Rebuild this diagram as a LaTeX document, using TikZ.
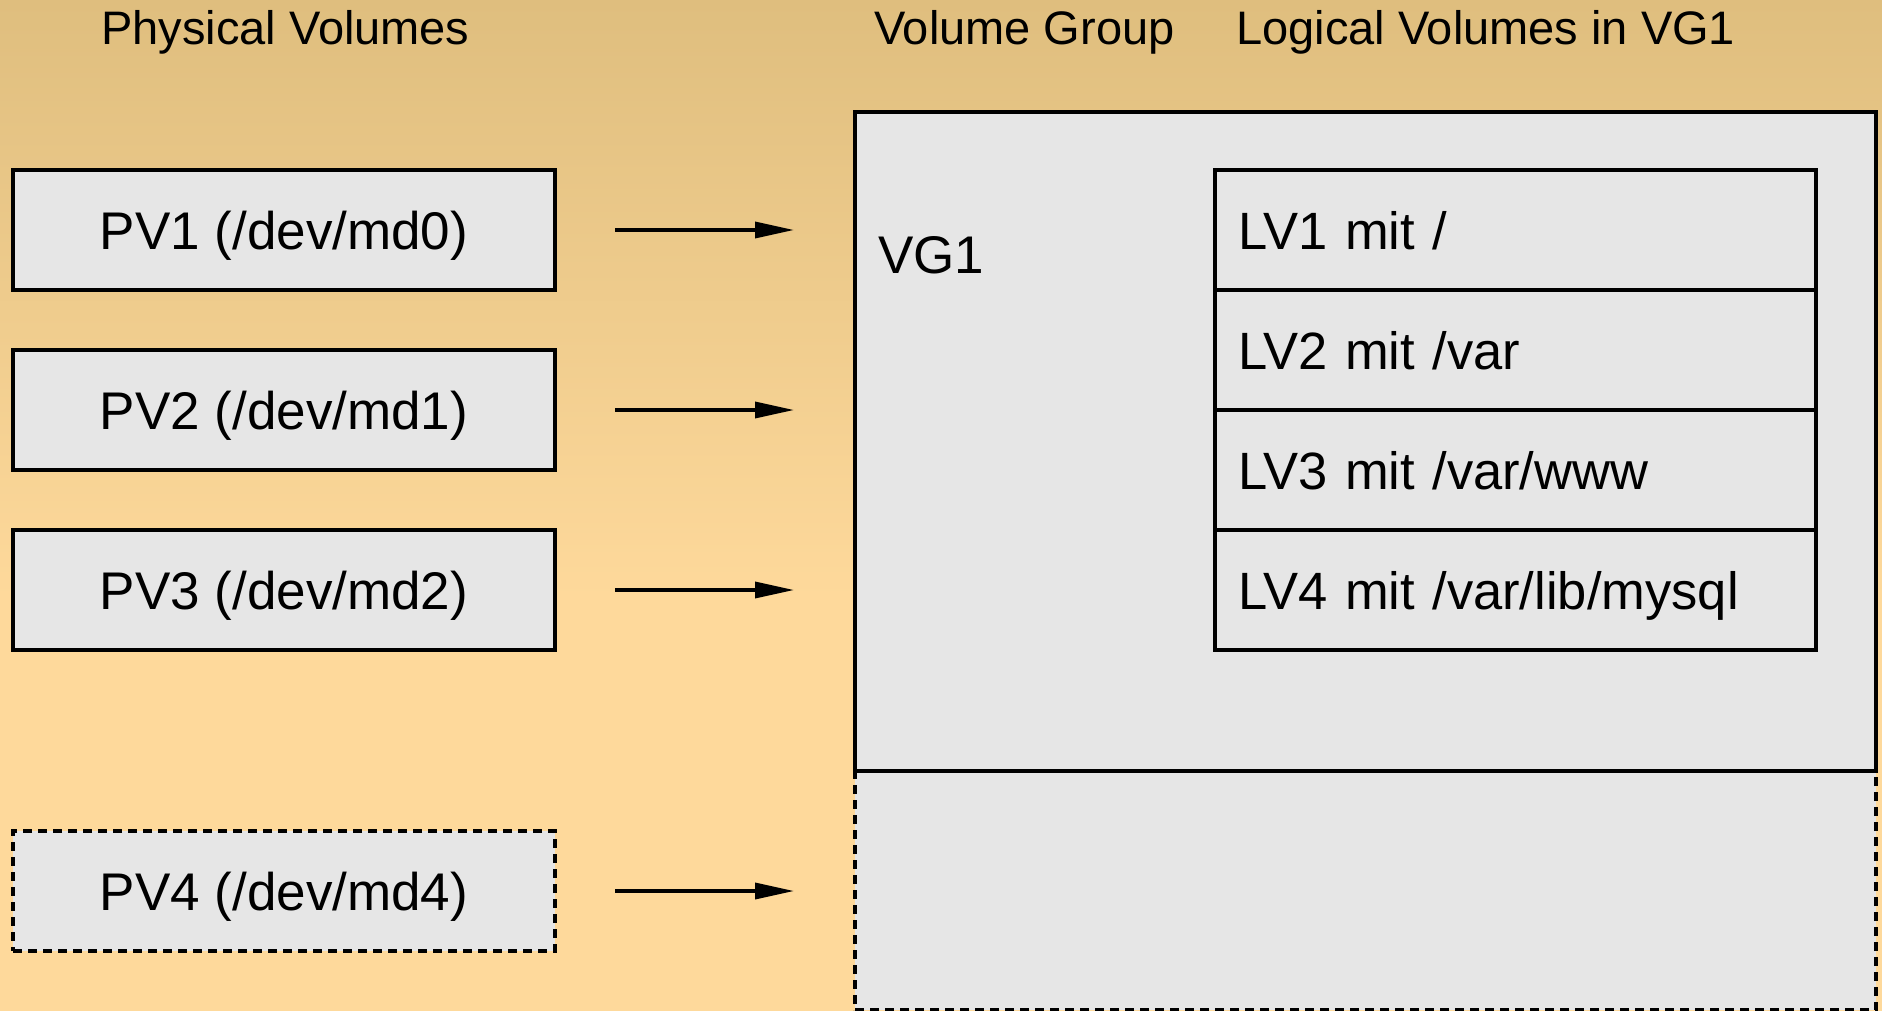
\documentclass[tikz,border=0pt]{standalone}
\usepackage{fontspec}
\setmainfont{Liberation Sans}
\usetikzlibrary{arrows.meta}
\definecolor{bgtop}{HTML}{DFBE7E}
\definecolor{bgbot}{HTML}{FED99B}
\definecolor{boxfill}{HTML}{E6E6E6}
\begin{document}
\begin{tikzpicture}[x=1pt,y=-1pt,
  box/.style={draw=black, line width=3.5pt, fill=boxfill, inner sep=0pt},
  dashbox/.style={box, dash pattern=on 9pt off 6pt},
  pvbox/.style={minimum width=542pt, minimum height=120pt,
    font=\fontsize{53}{60}\selectfont, text height=38pt, text depth=0pt},
  lvbox/.style={box, minimum height=120pt, text width=555pt, inner xsep=23pt, align=left,
    font=\fontsize{52.5}{60}\selectfont, text height=38pt, text depth=0pt},
  header/.style={anchor=base west, inner sep=0pt, font=\fontsize{47}{56}\selectfont},
  arr/.style={line width=3.5pt, -{Triangle[length=39pt,width=16pt]}}
]
\useasboundingbox (0,0) rectangle (1882,1011);
% background
\fill[bgbot] (0,0) rectangle (1882,1011);
\shade[top color=bgtop, bottom color=bgbot, draw=none] (0,0) rectangle (1882,600);

% headers
\node[header] (hpv) at (101,45) {Physical Volumes};
\node[header] (hvg) at (874,45) {Volume Group};
\node[header] (hlv) at (1236,45) {Logical Volumes in VG1};

% volume group
\node[dashbox, minimum width=1021pt, minimum height=239pt] (vgext) at (1365.5,890.5) {};
\node[box, minimum width=1021pt, minimum height=659pt] (vg) at (1365.5,441.5) {};
\node[anchor=base west, inner sep=0pt, font=\fontsize{53}{60}\selectfont] (vgl) at (878,273) {VG1};

% logical volumes
\node[lvbox] (lv1) at (1515.5,230) {LV1 mit /};
\node[lvbox] (lv2) at (1515.5,350) {LV2 mit /var};
\node[lvbox] (lv3) at (1515.5,470) {LV3 mit /var/www};
\node[lvbox] (lv4) at (1515.5,590) {LV4 mit /var/lib/mysql};

% physical volumes
\node[box, pvbox] (pv1) at (284,230) {PV1 (/dev/md0)};
\node[box, pvbox] (pv2) at (284,410) {PV2 (/dev/md1)};
\node[box, pvbox] (pv3) at (284,590) {PV3 (/dev/md2)};
\node[dashbox, pvbox] (pv4) at (284,891) {PV4 (/dev/md4)};

% arrows
\coordinate (a1s) at (615,230); \coordinate (a1e) at (794,230);
\coordinate (a2s) at (615,410); \coordinate (a2e) at (794,410);
\coordinate (a3s) at (615,590); \coordinate (a3e) at (794,590);
\coordinate (a4s) at (615,891); \coordinate (a4e) at (794,891);
\draw[arr] (a1s) -- (a1e);
\draw[arr] (a2s) -- (a2e);
\draw[arr] (a3s) -- (a3e);
\draw[arr] (a4s) -- (a4e);
\end{tikzpicture}
\end{document}
